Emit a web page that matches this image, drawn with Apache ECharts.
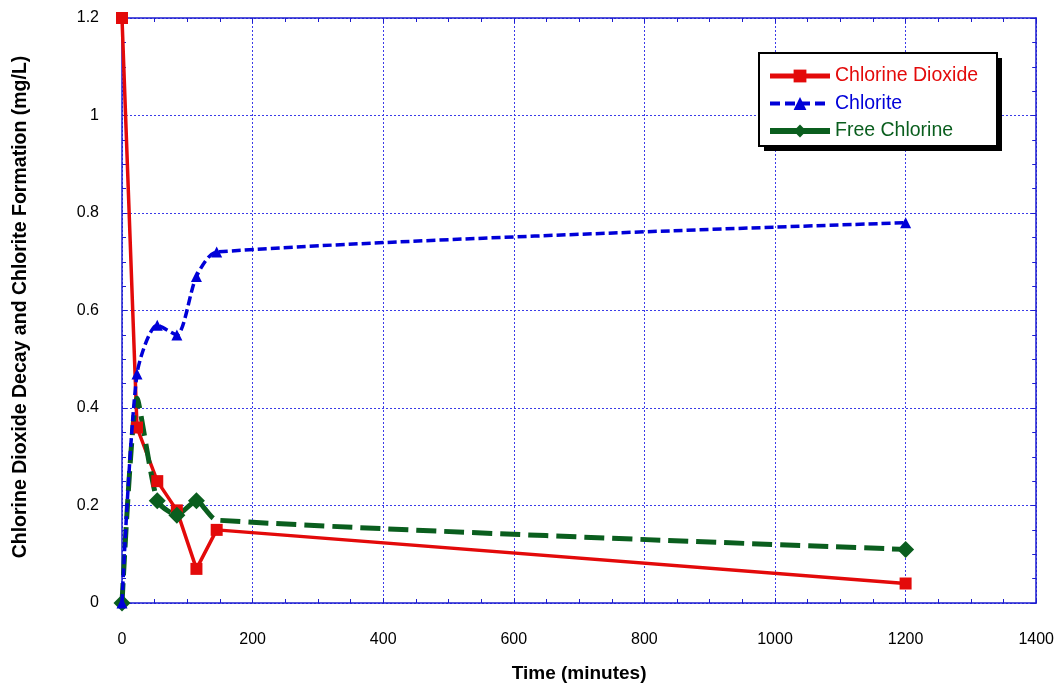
<!DOCTYPE html>
<html>
<head>
<meta charset="utf-8">
<script src="https://cdn.jsdelivr.net/npm/echarts@6/dist/echarts.min.js"></script>
<style>
html,body{margin:0;padding:0;background:#fff;}
#chart{width:1057px;height:688px;}
</style>
</head>
<body>
<div id="chart"></div>
<script>
// ---- data ----
const timeMinutes   = [0, 23, 54, 84, 114, 145, 1200];
const chlorineDioxide = [1.2, 0.36, 0.25, 0.19, 0.07, 0.15, 0.04];
const chlorite        = [0, 0.47, 0.57, 0.55, 0.67, 0.72, 0.78];
const freeChlorine    = [0, 0.42, 0.21, 0.18, 0.21, 0.17, 0.11];
const seriesNames = ['Chlorine Dioxide', 'Chlorite', 'Free Chlorine'];
const xTitle = 'Time (minutes)';
const yTitle = 'Chlorine Dioxide Decay and Chlorite Formation (mg/L)';

const FONT = '"Liberation Sans", Arial, sans-serif';
const RED = '#e30a0a', BLUE = '#0000d8', GREEN = '#0a5e1e';
const AXIS = '#1c1cd0', GRID = '#3b3be8';

const pairs = (ys) => timeMinutes.map((t, i) => [t, ys[i]]);

const tickCommon = {
  axisLine: {show: true, onZero: false, lineStyle: {color: AXIS, width: 1.5}},
  axisTick: {show: true, inside: true, length: 5, lineStyle: {color: AXIS, width: 1}},
  minorTick: {show: true, splitNumber: 4, length: 4, lineStyle: {color: AXIS, width: 1}},
};

const chart = echarts.init(document.getElementById('chart'), null, {renderer: 'canvas'});
chart.setOption({
  animation: false,
  backgroundColor: '#fff',
  textStyle: {fontFamily: FONT},
  grid: {left: 122, right: 19, top: 18, bottom: 83, containLabel: false},
  xAxis: [{
    type: 'value', min: 0, max: 1400, interval: 200,
    ...tickCommon,
    axisLabel: {color: '#000', fontSize: 16, margin: 29, fontFamily: FONT, formatter: (v) => String(v)},
    splitLine: {show: true, lineStyle: {color: GRID, width: 1, type: [2, 2]}},
    name: xTitle, nameLocation: 'middle', nameGap: 61,
    nameTextStyle: {color: '#000', fontSize: 19, fontWeight: 'bold', fontFamily: FONT}
  }, {
    type: 'value', min: 0, max: 1400, interval: 200, position: 'top',
    ...tickCommon,
    axisLabel: {show: false}, splitLine: {show: false}
  }],
  yAxis: [{
    type: 'value', min: 0, max: 1.2, interval: 0.2,
    ...tickCommon,
    axisLabel: {color: '#000', fontSize: 16, margin: 23, fontFamily: FONT},
    splitLine: {show: true, lineStyle: {color: GRID, width: 1, type: [2, 2]}}
  }, {
    type: 'value', min: 0, max: 1.2, interval: 0.2, position: 'right',
    ...tickCommon,
    axisLabel: {show: false}, splitLine: {show: false}
  }],
  legend: {
    orient: 'vertical', left: 767, top: 66, padding: 0,
    itemWidth: 60, itemHeight: 16, itemGap: 7.5, z: 10,
    textStyle: {fontSize: 19.5, fontFamily: FONT, lineHeight: 20},
    data: [
      {name: seriesNames[0], textStyle: {color: RED}, lineStyle: {width: 5, type: 'solid'}},
      {name: seriesNames[1], textStyle: {color: BLUE}, lineStyle: {width: 4, type: [10, 5]}},
      {name: seriesNames[2], textStyle: {color: GREEN}, lineStyle: {width: 6, type: 'solid'}}
    ]
  },
  graphic: [
    {type: 'rect', z: 8, shape: {x: 764, y: 58, width: 238, height: 93}, style: {fill: '#000'}},
    {type: 'rect', z: 9, shape: {x: 759, y: 53, width: 238, height: 93}, style: {fill: '#fff', stroke: '#000', lineWidth: 2}},
    {type: 'text', z: 10, x: 21, y: 307, rotation: Math.PI / 2,
     style: {text: yTitle, fill: '#000', font: 'bold 19.5px ' + FONT, align: 'center', verticalAlign: 'middle'}}
  ],
  series: [
    {
      name: seriesNames[0], type: 'line', data: pairs(chlorineDioxide),
      symbol: 'rect', symbolSize: 12, color: RED,
      lineStyle: {color: RED, width: 3.5}, itemStyle: {color: RED}, z: 3
    },
    {
      name: seriesNames[1], type: 'line', data: pairs(chlorite),
      symbol: 'triangle', symbolSize: 11, color: BLUE, smooth: 0.25,
      lineStyle: {color: BLUE, width: 3.5, type: [9, 4]}, itemStyle: {color: BLUE}, z: 4
    },
    {
      name: seriesNames[2], type: 'line', data: pairs(freeChlorine),
      symbol: 'diamond', symbolSize: (v, p) => ((p.dataIndex === 1 || p.dataIndex === 5) ? 0 : 17), color: GREEN, smooth: 0.2,
      lineStyle: {color: GREEN, width: 5, type: [20, 8]}, itemStyle: {color: GREEN}, z: 3
    }
  ]
});
</script>
</body>
</html>
